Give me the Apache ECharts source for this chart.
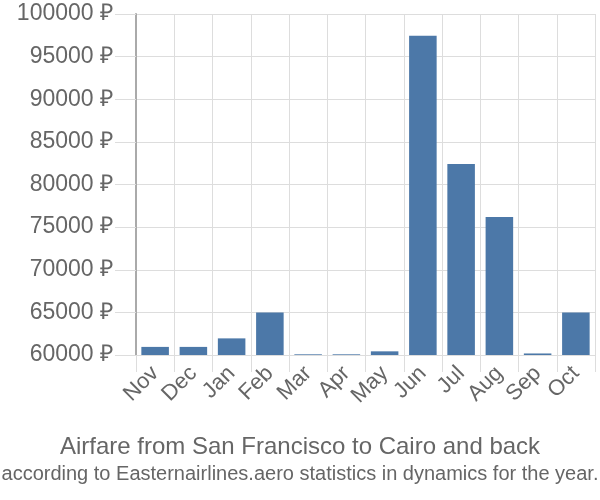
<!DOCTYPE html>
<html>
<head>
<meta charset="utf-8">
<script src="https://cdn.jsdelivr.net/npm/echarts@6/dist/echarts.min.js"></script>
<style>html,body{margin:0;padding:0;background:#fff}#c{width:600px;height:500px}</style>
</head>
<body>
<div id="c"></div>
<script>
const categories = ['Nov','Dec','Jan','Feb','Mar','Apr','May','Jun','Jul','Aug','Sep','Oct'];
const prices = [60950, 60950, 61950, 65000, 60080, 60080, 60430, 97450, 82400, 76200, 60180, 65000];
const titleText = 'Airfare from San Francisco to Cairo and back';
const subtitleText = 'according to Easternairlines.aero statistics in dynamics for the year.';
const FONT = '"Liberation Sans", Arial, sans-serif';

const chart = echarts.init(document.getElementById('c'));
chart.setOption({
  animation: false,
  title: {
    text: titleText,
    subtext: subtitleText,
    left: 'center',
    top: 430,
    itemGap: 5,
    textStyle: {fontFamily: FONT, fontSize: 24, fontWeight: 'normal', color: '#666'},
    subtextStyle: {fontFamily: FONT, fontSize: 20, color: '#666'}
  },
  grid: {left: 136, right: 5, top: 14, bottom: 145},
  xAxis: {
    type: 'category',
    data: categories,
    axisLine: {show: true, lineStyle: {color: '#ddd'}},
    axisTick: {show: true, interval: 0, length: 17, lineStyle: {color: '#ddd'}},
    splitLine: {show: true, interval: 0, lineStyle: {color: '#ddd'}},
    axisLabel: {interval: 0, rotate: 45, fontFamily: FONT, fontSize: 22, color: '#666', margin: 15}
  },
  yAxis: {
    type: 'value',
    min: 60000, max: 100000, interval: 5000,
    axisLine: {show: true, lineStyle: {color: '#aaa', width: 2}},
    axisTick: {show: true, length: 21, lineStyle: {color: '#ddd'}},
    splitLine: {show: true, lineStyle: {color: '#ddd'}},
    axisLabel: {fontFamily: FONT, fontSize: 23, color: '#666', margin: 23, formatter: v => v + ' ₽'}
  },
  series: [{
    type: 'bar',
    data: prices,
    barCategoryGap: '28%',
    itemStyle: {color: '#4c78a8'}
  }]
});
</script>
</body>
</html>
